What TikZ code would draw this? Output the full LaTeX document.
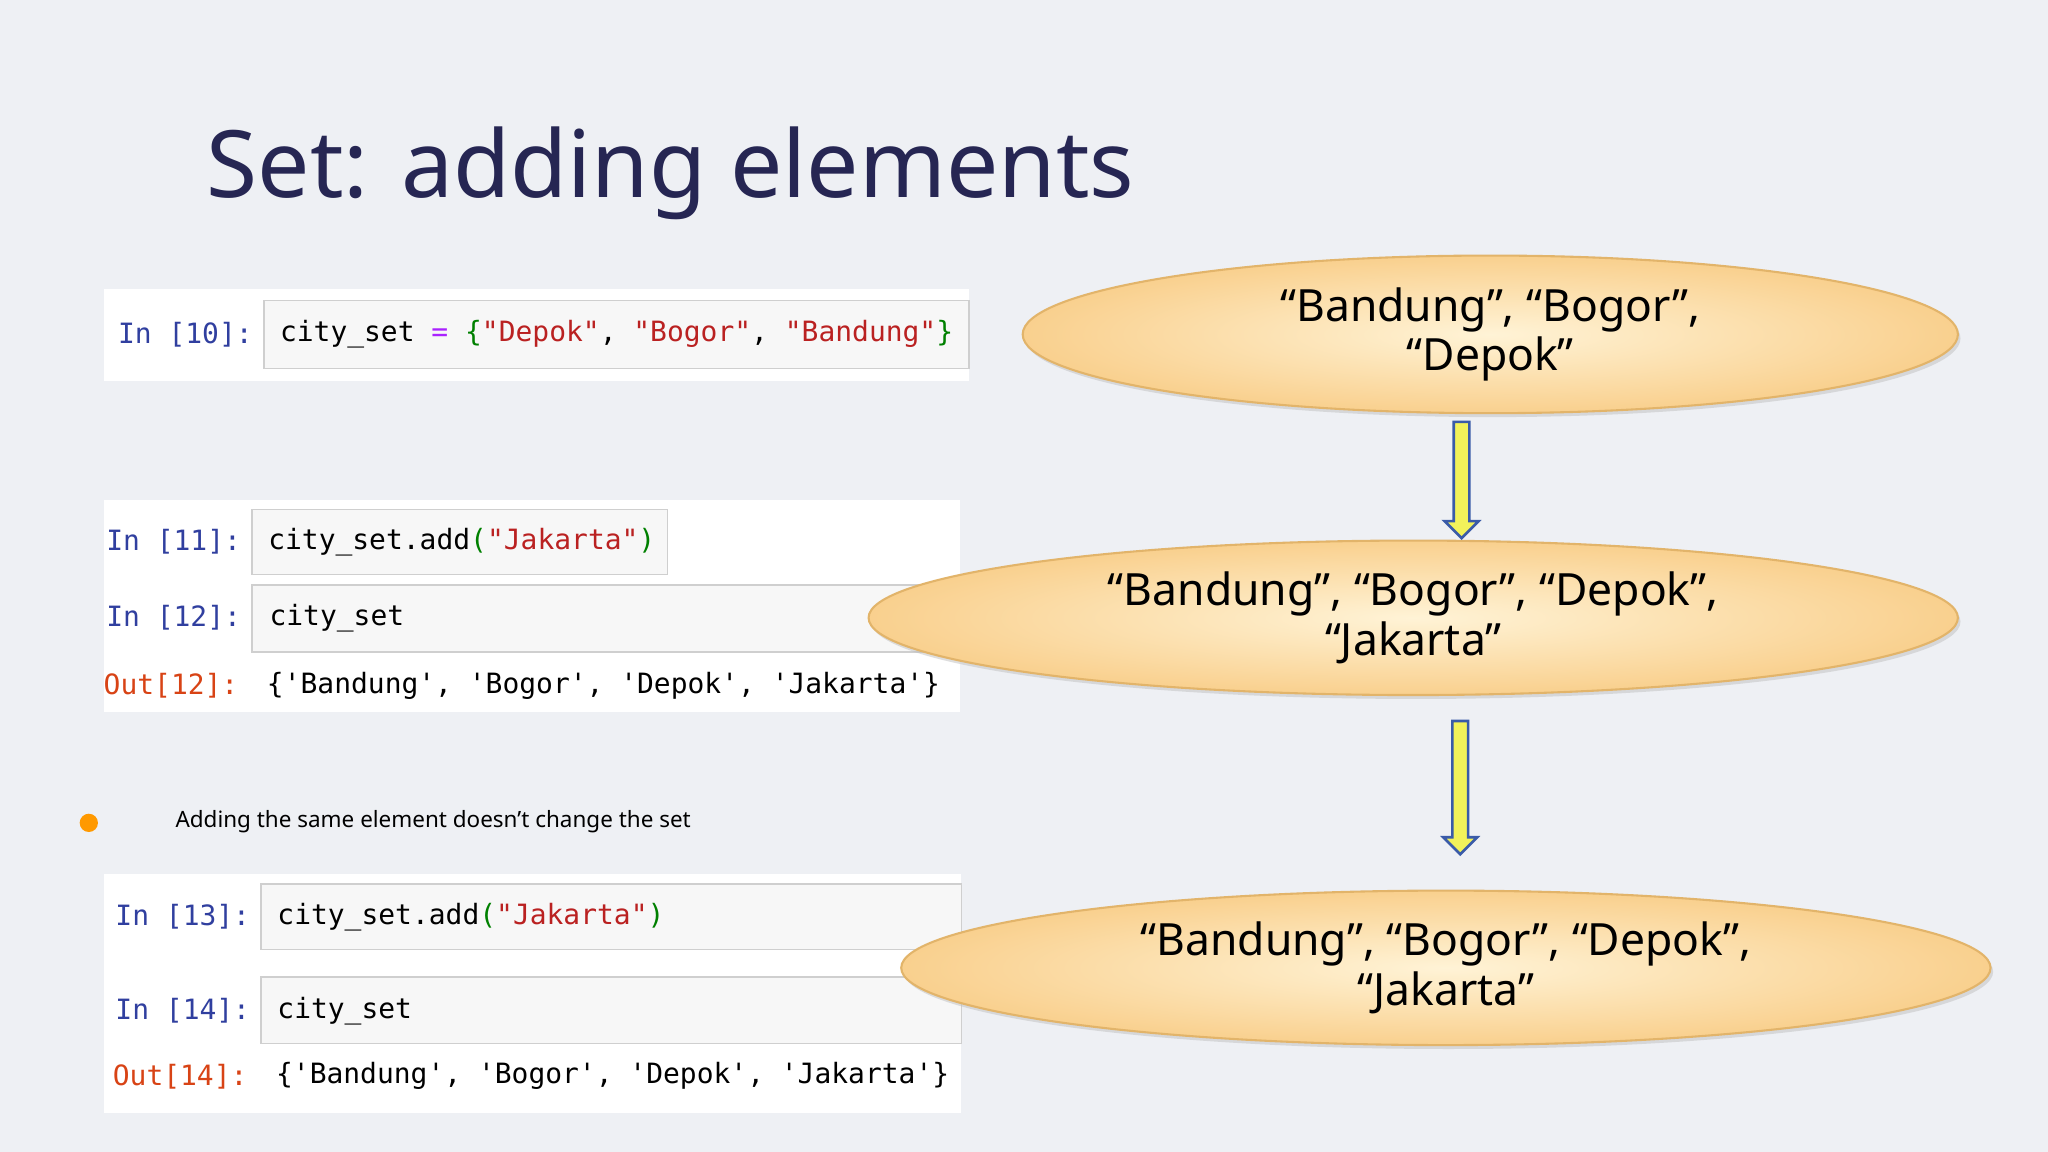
\documentclass[tikz,border=0pt]{standalone}
\usepackage{fontspec}
\setmainfont{Noto Sans}
\newfontfamily\codefont{DejaVu Sans Mono}
\usetikzlibrary{shapes.geometric,shadows}
\definecolor{bg}{HTML}{EEF0F4}
\definecolor{titlec}{HTML}{262653}
\definecolor{inc}{HTML}{303F9F}
\definecolor{outc}{HTML}{D84315}
\definecolor{strc}{HTML}{BA2121}
\definecolor{grn}{HTML}{008000}
\definecolor{pur}{HTML}{AA22FF}
\definecolor{cellbg}{HTML}{F7F7F7}
\definecolor{cellbd}{HTML}{CFCFCF}
\definecolor{ellbd}{HTML}{E2B46A}
\definecolor{ellin}{HTML}{FFF3D6}
\definecolor{ellout}{HTML}{F9D08E}
\definecolor{arrbd}{HTML}{3A5BA8}
\definecolor{arrfill}{HTML}{F2F25A}
\newcommand{\q}{\symbol{39}}
\tikzset{
 panel/.style={fill=white,draw=none},
 cellbox/.style={fill=cellbg,draw=cellbd,line width=0.6pt},
 prompt/.style={anchor=west,font=\codefont\fontsize{10.7}{13}\selectfont,inner sep=0pt},
 code/.style={anchor=west,font=\codefont\fontsize{10.7}{13}\selectfont,inner sep=0pt},
 ell/.style={ellipse,draw=ellbd,line width=0.8pt,inner color=ellin,outer color=ellout,
   drop shadow={shadow xshift=1pt,shadow yshift=-1.5pt,fill=black!25},
   font=\fontsize{17}{19}\selectfont,align=center,text=black},
 darr/.style={draw=arrbd,fill=arrfill,line width=1pt,line join=miter}
}
\begin{document}
\begin{tikzpicture}[x=0.5pt,y=-0.5pt]
\fill[bg] (0,0) rectangle (1568,882);
\node[anchor=west,text=titlec,font=\fontsize{35.6}{42}\selectfont,inner sep=0pt] (title) at (158,133) {Set: adding elements};
% panel 1
\fill[panel] (80,221) rectangle (742,292);
\draw[cellbox] (202,230) rectangle (742,282);
\node[prompt,text=inc] (p10) at (90,256) {In [10]:};
\node[code] (c10) at (214,256) {city\_set \textcolor{pur}{=} \textcolor{grn}{\{}\textcolor{strc}{"Depok"}, \textcolor{strc}{"Bogor"}, \textcolor{strc}{"Bandung"}\textcolor{grn}{\}}};
% panel 2
\fill[panel] (80,383) rectangle (735,545);
\draw[cellbox] (193,390) rectangle (511,440);
\draw[cellbox] (193,448) rectangle (735,499);
\node[prompt,text=inc] (p11) at (81,415) {In [11]:};
\node[code] (c11) at (205,415) {city\_set.add\textcolor{grn}{(}\textcolor{strc}{"Jakarta"}\textcolor{grn}{)}};
\node[prompt,text=inc] (p12) at (81,473) {In [12]:};
\node[code] (c12) at (206,473) {city\_set};
\node[prompt,text=outc] (o12) at (79,525) {Out[12]:};
\node[code] (r12) at (204,525) {\{\q Bandung\q, \q Bogor\q, \q Depok\q, \q Jakarta\q\}};
% bullet
\fill[orange!80!yellow] (68,630) circle (7);
\node[anchor=west,font=\fontsize{8.6}{10}\selectfont,inner sep=0pt] (bul) at (134,629) {Adding the same element doesn’t change the set};
% panel 3
\fill[panel] (80,669) rectangle (736,852);
\draw[cellbox] (200,677) rectangle (736,727);
\draw[cellbox] (200,748) rectangle (736,799);
\node[prompt,text=inc] (p13) at (88,702) {In [13]:};
\node[code] (c13) at (212,702) {city\_set.add\textcolor{grn}{(}\textcolor{strc}{"Jakarta"}\textcolor{grn}{)}};
\node[prompt,text=inc] (p14) at (88,774) {In [14]:};
\node[code] (c14) at (212,774) {city\_set};
\node[prompt,text=outc] (o14) at (86,824) {Out[14]:};
\node[code] (r14) at (211,824) {\{\q Bandung\q, \q Bogor\q, \q Depok\q, \q Jakarta\q\}};
% ellipses
\node[ell,minimum width=358pt,minimum height=57pt] (e1) at (1141,256) {“Bandung”, “Bogor”,\\“Depok”};
\node[ell,minimum width=417pt,minimum height=58pt] (e2) at (1082,473) {“Bandung”, “Bogor”, “Depok”,\\“Jakarta”};
\node[ell,minimum width=417pt,minimum height=59pt] (e3) at (1107,741) {“Bandung”, “Bogor”, “Depok”,\\“Jakarta”};
% arrows
\coordinate (a1) at (1119,323);
\coordinate (a2) at (1118,552);
\draw[darr] (a1) ++(-6,0) -- ++(0,76) -- ++(-7,0) -- ++(13,13) -- ++(13,-13) -- ++(-7,0) -- ++(0,-76) -- cycle;
\draw[darr] (a2) ++(-6,0) -- ++(0,89) -- ++(-7,0) -- ++(13,13) -- ++(13,-13) -- ++(-7,0) -- ++(0,-89) -- cycle;
\end{tikzpicture}
\end{document}
